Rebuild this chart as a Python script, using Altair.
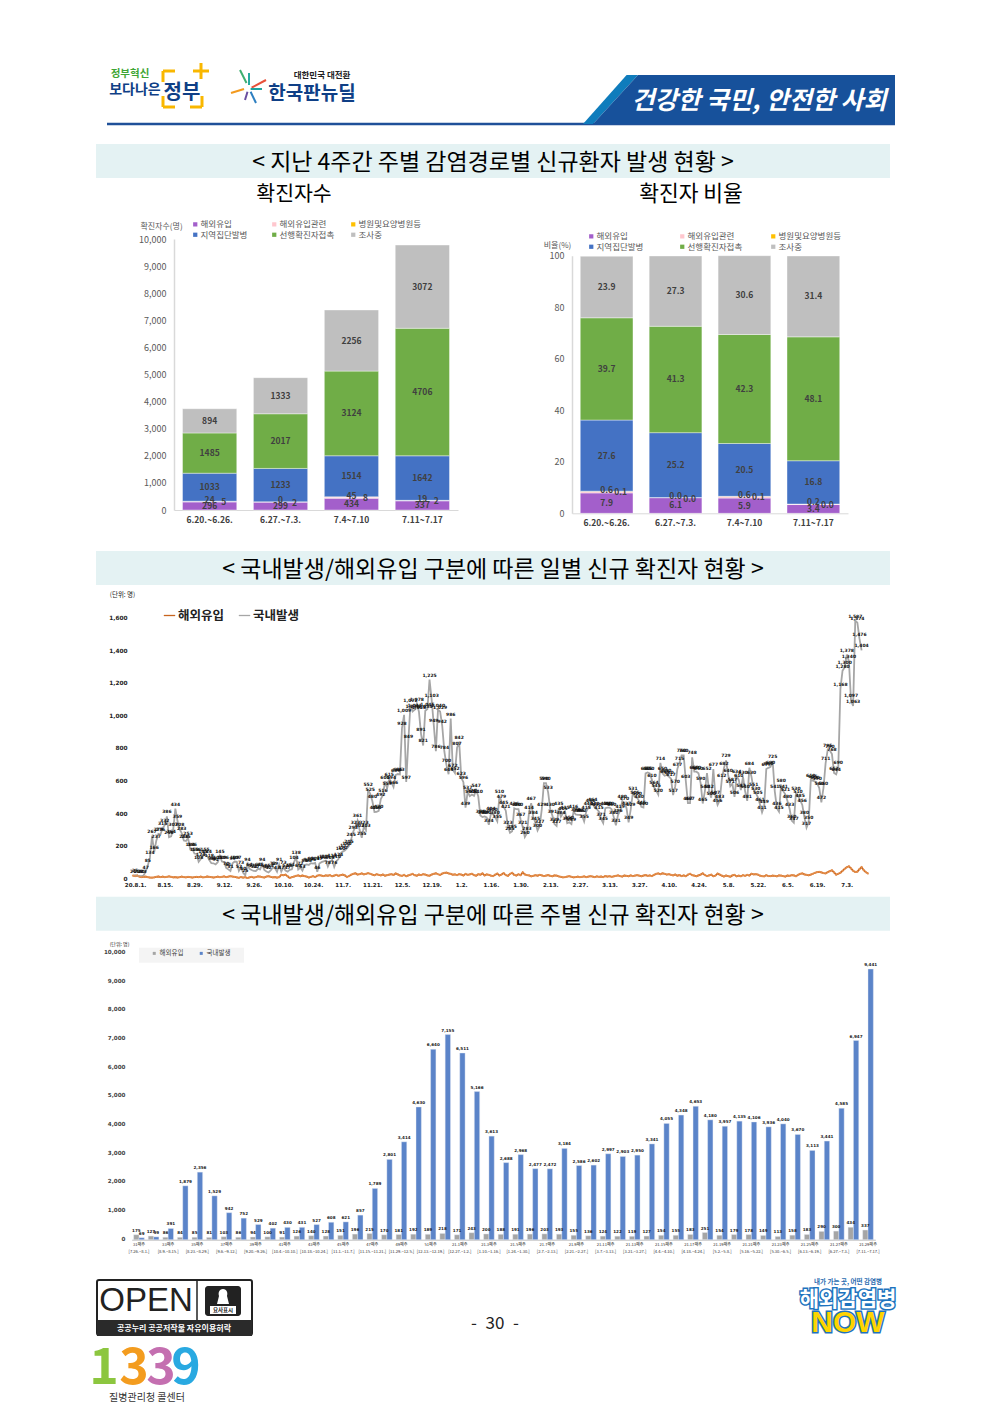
import altair as alt
import pandas as pd

KR = "Noto Sans CJK KR"
NUM = "DejaVu Sans"
COMMA = "format(datum.value,',')"

# ---- chart 1 / chart 2 : weekly infection routes
periods1 = ["6.20.~6.26.", "6.27.~7.3.", "7.4~7.10", "7.11~7.17"]
routes = ["해외유입", "해외유입관련", "병원및요양병원등", "지역집단발병", "선행확진자접촉", "조사중"]
route_colors = ["#A35FCB", "#FFC7CE", "#FFC000", "#4472C4", "#70AD47", "#BFBFBF"]
counts = {
    "해외유입": [296, 299, 434, 337],
    "해외유입관련": [24, 0, 45, 19],
    "병원및요양병원등": [5, 2, 8, 2],
    "지역집단발병": [1033, 1233, 1514, 1642],
    "선행확진자접촉": [1485, 2017, 3124, 4706],
    "조사중": [894, 1333, 2256, 3072],
}
shares = {
    "해외유입": [7.9, 6.1, 5.9, 3.4],
    "해외유입관련": [0.6, 0.0, 0.6, 0.2],
    "병원및요양병원등": [0.1, 0.0, 0.1, 0.0],
    "지역집단발병": [27.6, 25.2, 20.5, 16.8],
    "선행확진자접촉": [39.7, 41.3, 42.3, 48.1],
    "조사중": [23.9, 27.3, 30.6, 31.4],
}

# ---- chart 3 : daily series
daily_ticks = ["20.8.1.", "8.15.", "8.29.", "9.12.", "9.26.", "10.10.", "10.24.", "11.7.", "11.21.", "12.5.",
               "12.19.", "1.2.", "1.16.", "1.30.", "2.13.", "2.27.", "3.13.", "3.27.", "4.10.", "4.24.",
               "5.8.", "5.22.", "6.5.", "6.19.", "7.3."]
daily_domestic = [
    21, 25, 23, 19, 20, 23, 47, 85, 134, 267, 166, 237, 279, 276, 315, 332, 386, 258, 264, 307,
    434, 359, 308, 283, 238, 235, 253, 184, 186, 158, 156, 108, 124, 145, 155, 144, 118, 99, 98, 91,
    105, 145, 109, 106, 70, 61, 51, 99, 109, 107, 52, 73, 40, 25, 94, 64, 57, 51, 50, 64,
    61, 94, 58, 48, 42, 54, 72, 69, 47, 91, 47, 73, 54, 47, 58, 61, 104, 138, 60, 72,
    53, 88, 91, 88, 99, 96, 101, 46, 97, 105, 110, 115, 78, 108, 118, 76, 110, 124, 160, 170,
    177, 190, 205, 245, 293, 323, 361, 302, 255, 323, 303, 552, 525, 480, 413, 414, 420, 492, 516, 600,
    559, 615, 594, 566, 639, 646, 643, 928, 1009, 597, 849, 1072, 1030, 1041, 1078, 1028, 891, 821, 1034, 1045,
    1225, 1103, 949, 786, 1040, 1029, 942, 784, 700, 644, 986, 672, 652, 807, 842, 623, 596, 439, 537, 510,
    520, 512, 547, 510, 391, 382, 386, 380, 334, 404, 400, 380, 355, 510, 479, 445, 421, 323, 285, 295,
    436, 430, 430, 367, 321, 260, 283, 414, 467, 384, 345, 300, 327, 429, 590, 590, 533, 430, 391, 339,
    327, 435, 384, 405, 415, 344, 350, 339, 416, 398, 395, 395, 392, 355, 415, 440, 454, 464, 440, 430,
    415, 371, 345, 436, 440, 440, 430, 380, 331, 396, 419, 480, 470, 437, 349, 429, 531, 505, 500, 480,
    445, 440, 650, 655, 650, 610, 564, 545, 520, 714, 650, 635, 640, 630, 617, 517, 570, 677, 715, 760,
    760, 603, 467, 467, 748, 660, 660, 650, 590, 465, 540, 652, 542, 500, 677, 507, 456, 483, 612, 682,
    729, 640, 571, 587, 506, 634, 610, 547, 630, 540, 481, 684, 630, 551, 530, 505, 461, 411, 449, 677,
    684, 690, 725, 541, 436, 415, 580, 541, 521, 480, 433, 360, 347, 530, 510, 485, 456, 380, 317, 350,
    610, 605, 600, 590, 560, 472, 560, 711, 795, 790, 768, 652, 644, 690, 1168, 1280, 1300, 1378, 1340, 1097,
    1063, 1587, 1574, 1476, 1404,
]
daily_imported = [
    22, 20, 23, 17, 14, 15, 16, 13, 11, 10, 12, 15, 17, 14, 16, 13, 15, 18, 15, 12,
    14, 11, 13, 16, 14, 12, 15, 13, 11, 14, 15, 13, 16, 12, 14, 17, 15, 13, 11, 14,
    16, 13, 15, 18, 14, 16, 19, 17, 15, 12, 9, 14, 10, 13, 8, 12, 15, 11, 14, 18,
    16, 13, 11, 17, 19, 15, 12, 14, 10, 13, 27, 25, 28, 19, 8, 13, 17, 21, 24, 19,
    23, 20, 17, 11, 15, 19, 14, 22, 26, 23, 20, 24, 22, 25, 19, 23, 27, 21, 26, 29,
    24, 14, 20, 28, 33, 37, 29, 32, 36, 30, 33, 38, 34, 29, 25, 31, 27, 24, 29, 22,
    25, 28, 31, 27, 36, 30, 24, 21, 27, 19, 24, 28, 33, 25, 22, 29, 26, 31, 28, 24,
    22, 29, 33, 37, 31, 27, 35, 39, 41, 36, 33, 28, 30, 26, 32, 29, 24, 33, 27, 30,
    34, 26, 22, 31, 28, 36, 24, 30, 27, 22, 20, 28, 35, 23, 29, 38, 26, 21, 33, 40,
    27, 23, 31, 25, 42, 30, 26, 24, 18, 21, 25, 22, 27, 24, 20, 23, 26, 21, 19, 24,
    22, 18, 15, 12, 14, 17, 19, 15, 12, 14, 16, 13, 15, 18, 13, 16, 19, 17, 14, 18,
    15, 17, 14, 20, 16, 19, 15, 18, 21, 24, 20, 17, 23, 21, 19, 24, 20, 23, 26, 22,
    19, 23, 26, 21, 24, 20, 27, 33, 36, 31, 37, 34, 29, 32, 27, 24, 29, 22, 26, 20,
    24, 19, 28, 34, 25, 22, 19, 24, 29, 37, 26, 20, 24, 28, 19, 23, 35, 29, 22, 17,
    23, 20, 16, 24, 27, 18, 22, 19, 25, 21, 27, 23, 34, 30, 32, 29, 22, 19, 18, 25,
    20, 19, 23, 21, 18, 24, 22, 20, 17, 23, 21, 26, 24, 19, 27, 33, 36, 30, 27, 25,
    29, 34, 40, 44, 46, 42, 38, 36, 44, 50, 55, 42, 28, 34, 40, 52, 64, 74, 80, 67,
    52, 45, 47, 62, 75, 56, 44, 35,
]

# ---- chart 4 : weekly series
week_names = ["31째주", "32째주", "33째주", "34째주", "35째주", "36째주", "37째주", "38째주", "39째주", "40째주", "41째주",
              "42째주", "43째주", "44째주", "45째주", "46째주", "47째주", "48째주", "49째주", "50째주", "51째주", "52째주",
              "21.1째주", "21.2째주", "21.3째주", "21.4째주", "21.5째주", "21.6째주", "21.7째주", "21.8째주", "21.9째주",
              "21.10째주", "21.11째주", "21.12째주", "21.13째주", "21.14째주", "21.15째주", "21.16째주", "21.17째주",
              "21.18째주", "21.19째주", "21.20째주", "21.21째주", "21.22째주", "21.23째주", "21.24째주", "21.25째주",
              "21.26째주", "21.27째주", "21.28째주", "21.29째주"]
week_spans = ["[7.26.~8.1.]", "[8.9.~8.15.]", "[8.23.~8.29.]", "[9.6.~9.12.]", "[9.20.~9.26.]", "[10.4.~10.10.]",
              "[10.18.~10.24.]", "[11.1.~11.7.]", "[11.15.~11.21.]", "[11.29.~12.5.]", "[12.13.~12.19.]",
              "[12.27.~1.2.]", "[1.10.~1.16.]", "[1.24.~1.30.]", "[2.7.~2.13.]", "[2.21.~2.27.]", "[3.7.~3.13.]",
              "[3.21.~3.27.]", "[4.4.~4.10.]", "[4.18.~4.24.]", "[5.2.~5.8.]", "[5.16.~5.22.]", "[5.30.~6.5.]",
              "[6.13.~6.19.]", "[6.27.~7.3.]", "[7.11.~7.17.]"]
weekly_imported = [175, 127, 86, 84, 85, 81, 103, 86, 94, 100, 91, 126, 140, 128, 151, 196, 215, 170, 181, 192, 189, 218,
                   171, 243, 200, 188, 191, 196, 203, 193, 155, 136, 124, 122, 119, 127, 154, 155, 183, 251, 154, 179,
                   178, 149, 113, 158, 183, 290, 300, 434, 337]
weekly_domestic = [69, 99, 391, 1879, 2356, 1529, 942, 752, 529, 402, 430, 431, 527, 608, 621, 857, 1789, 2801, 3414,
                   4630, 6640, 7155, 6511, 5166, 3613, 2688, 2968, 2477, 2472, 3184, 2586, 2602, 2997, 2903, 2950,
                   3341, 4055, 4348, 4653, 4180, 3957, 4135, 4106, 3936, 4040, 3670, 3113, 3441, 4585, 6947, 9441]


class Deco:
    """Page furniture, placed in pixels of the page through alt.value."""

    def __init__(self, ox, oy):
        self.ox, self.oy = ox, oy
        self.one = pd.DataFrame({"t": [""]})

    def text(self, s, x, y, size, color="#000000", weight="normal", align="center", font=KR, **kw):
        shift = size * 0.09 if font == KR else 0
        return alt.Chart(self.one).mark_text(
            text=s, fontSize=size, color=color, fontWeight=weight, align=align, baseline="middle", font=font, **kw
        ).encode(x=alt.value(x - self.ox), y=alt.value(y + shift - self.oy))

    def rect(self, x1, y1, x2, y2, color, **kw):
        return alt.Chart(self.one).mark_rect(color=color, **kw).encode(
            x=alt.value(x1 - self.ox), x2=alt.value(x2 - self.ox),
            y=alt.value(y1 - self.oy), y2=alt.value(y2 - self.oy))

    def rule(self, x1, y1, x2, y2, color, width=1.0):
        return alt.Chart(self.one).mark_rule(color=color, strokeWidth=width).encode(
            x=alt.value(x1 - self.ox), x2=alt.value(x2 - self.ox),
            y=alt.value(y1 - self.oy), y2=alt.value(y2 - self.oy))

    def shape(self, path, color):
        return alt.Chart(self.one).mark_point(
            shape=path, size=4, filled=True, color=color, opacity=1, strokeWidth=0
        ).encode(x=alt.value(-self.ox), y=alt.value(-self.oy))


def empty(w, h):
    return alt.Chart(pd.DataFrame({"t": [""]})).mark_point(opacity=0, size=1).encode(
        x=alt.value(10), y=alt.value(10)).properties(width=w, height=h)


SECTION = "#E4F2F3"

# ---- row 1 : header
d = Deco(8, 8)
header_marks = [
    d.text("정부혁신", 130, 73, 10.5, "#3FA535", "bold"),
    d.text("보다나은", 135, 89, 14, "#0F3F86", "bold"),
    d.text("정부", 182, 91, 20, "#0F3F86", "bold"),
    d.rule(163, 71, 163, 82, "#F9B700", 3), d.rule(163, 71, 175, 71, "#F9B700", 3),
    d.rule(163, 96, 163, 107, "#F9B700", 3), d.rule(163, 107, 175, 107, "#F9B700", 3),
    d.rule(202, 96, 202, 107, "#F9B700", 3), d.rule(190, 107, 202, 107, "#F9B700", 3),
    d.rule(193, 71, 209, 71, "#F9B700", 3), d.rule(201, 63, 201, 79, "#F9B700", 3),
    d.rule(240, 70, 246.5, 83, "#3DAE6F", 2), d.rule(249, 73, 249, 85, "#27AAA0", 2),
    d.rule(266, 80, 251.6, 87.6, "#E8503A", 2), d.rule(262, 89, 250.6, 89, "#20A39E", 2),
    d.rule(256, 103, 250.6, 91.7, "#2D7FC1", 2), d.rule(245, 100, 247.5, 91.7, "#6A4FA0", 2),
    d.rule(231, 93, 244, 89, "#F39A1E", 2),
    d.text("대한민국 대전환", 322, 74, 8.5, "#222222", "bold"),
    d.text("한국판뉴딜", 312, 92, 19, "#0F3F86", "bold"),
    d.rule(107, 124, 895, 124, "#1F5099", 2.5),
    d.shape("M583,124 L626.6,75 L638,75 L593,124 Z", "#0F7CBC"),
    d.shape("M593,124 L638,75 L895,75 L895,124 Z", "#17519B"),
    d.text("건강한 국민, 안전한 사회", 759, 99, 25, "#FFFFFF", "bold", fontStyle="italic"),
    d.rect(96, 144, 890, 178, SECTION),
    d.text("< 지난 4주간 주별 감염경로별 신규환자 발생 현황 >", 493, 161, 23),
    d.text("확진자수", 294, 193, 20.5),
    d.text("확진자 비율", 691, 193, 21.5),
]
row1 = alt.layer(*header_marks).properties(width=564, height=231)


# ---- row 2 : stacked bars
def stacked(table, fmt, y_range, x_range, y_values, title, title_x, title_y, leg_x, leg_y, pad,
            bottom_off, left_off, width):
    rows = []
    for o, r in enumerate(routes):
        for p, v in zip(periods1, table[r]):
            rows.append({"period": p, "route": r, "value": v, "ord": o})
    df = pd.DataFrame(rows)
    base = alt.Chart(df).transform_stack(
        stack="value", groupby=["period"], sort=[alt.SortField("ord")], as_=["y0", "y1"]
    ).transform_calculate(mid="(datum.y0+datum.y1)/2")
    x = alt.X("period:N", sort=periods1, title=None,
              scale=alt.Scale(range=x_range, paddingInner=0.235, paddingOuter=0.12),
              axis=alt.Axis(labelAngle=0, labelFont=KR, labelFontSize=8.5, labelFontWeight="bold",
                            labelColor="#404040", ticks=False, domainColor="#D9D9D9", offset=bottom_off,
                            labelPadding=5))
    yscale = alt.Scale(domain=[y_values[0], y_values[-1]], range=y_range, nice=False)
    yaxis = alt.Axis(values=y_values, labelExpr=COMMA, labelOverlap=False, grid=False, ticks=False,
                     domainColor="#D9D9D9", domainWidth=1.5, labelFont=KR, labelFontSize=9,
                     labelColor="#595959", labelPadding=8, offset=left_off, titleAngle=0, titleFont=KR,
                     titleFontSize=8, titleFontWeight="normal", titleColor="#595959", titleX=title_x,
                     titleY=title_y, titleAlign="center")
    bars = base.mark_bar(stroke="white", strokeWidth=0.4).encode(
        x=x,
        y=alt.Y("y0:Q", scale=yscale, title=title, axis=yaxis),
        y2="y1:Q",
        color=alt.Color("route:N", sort=routes, scale=alt.Scale(domain=routes, range=route_colors),
                        legend=alt.Legend(orient="none", legendX=leg_x, legendY=leg_y, columns=3, title=None,
                                          direction="horizontal", symbolType="square", symbolSize=18, labelFont=KR,
                                          labelFontSize=8.5, labelColor="#595959", columnPadding=pad, rowPadding=1.5,
                                          gridAlign="all", symbolStrokeWidth=0, labelOffset=1)),
    )
    txt = dict(font=KR, fontSize=8.5, fontWeight="bold", color="#404040")
    enc = dict(x=x, y=alt.Y("mid:Q", scale=yscale, title=title, axis=yaxis),
               text=alt.Text("value:Q", format=fmt))
    main = base.transform_filter(alt.datum.ord != 1).transform_filter(alt.datum.ord != 2).mark_text(**txt).encode(**enc)
    pink = base.transform_filter(alt.datum.ord == 1).mark_text(dy=-2, **txt).encode(**enc)
    yellow = base.transform_filter(alt.datum.ord == 2).mark_text(dx=14, dy=1, **txt).encode(**enc)
    return alt.layer(bars, main, pink, yellow).properties(width=width, height=275)


left = stacked(counts, "d", [271, 0], [166, 450], list(range(0, 10001, 1000)), "확진자수(명)", -13, -9,
               183, -19, 6, -4, -166, 564)
right = stacked(shares, ".1f", [274.3, 16.7], [0, 276], [0, 20, 40, 60, 80, 100], "비율(%)", -15, 10,
                15, -7, 18, -0.7, 0, 276)

# ---- row 3 : daily line
d = Deco(8, 514)
daily_df = pd.concat([
    pd.DataFrame({"day": range(len(daily_imported)), "v": daily_imported, "series": "해외유입"}),
    pd.DataFrame({"day": range(len(daily_domestic)), "v": daily_domestic, "series": "국내발생"}),
])
tick_days = [1 + 14 * i for i in range(len(daily_ticks))]
tick_expr = "[" + ",".join("'%s'" % t for t in daily_ticks) + "][(datum.value-1)/14]"
daily_x = alt.X("day:Q", title=None, scale=alt.Scale(domain=[0, 344], range=[125, 853.6], nice=False, zero=False),
                axis=alt.Axis(values=tick_days, labelExpr=tick_expr, grid=False, ticks=False, domain=False,
                              labelFont=NUM, labelFontSize=5.5, labelFontWeight="bold", labelColor="#222222",
                              labelPadding=3, labelOverlap=False, labelFlush=False, labelBound=False))
daily_y = alt.Y("v:Q", title="(단위: 명)",
                scale=alt.Scale(domain=[0, 1600], range=[365.3, 104.5], nice=False),
                axis=alt.Axis(values=list(range(0, 1601, 200)), labelExpr=COMMA, labelOverlap=False, grid=False,
                              ticks=False, domain=False, labelFont=NUM, labelFontSize=5.8, labelFontWeight="bold",
                              labelColor="#222222", labelPadding=0, labelOffset=-1, offset=-119, titleAngle=0,
                              titleFont=KR, titleFontSize=6.5, titleColor="#222222", titleFontWeight="normal",
                              titleX=-5, titleY=83, titleAlign="center"))
daily_line = alt.Chart(daily_df).mark_line(interpolate="linear").encode(
    x=daily_x, y=daily_y,
    strokeWidth=alt.value(1.8),
    detail="series:N",
    color=alt.Color("series:N", sort=["해외유입", "국내발생"],
                    scale=alt.Scale(domain=["해외유입", "국내발생"], range=["#C8641E", "#A6A6A6"]),
                    legend=alt.Legend(orient="none", legendX=155, legendY=95, columns=2, title=None,
                                      direction="horizontal", symbolType="stroke", symbolSize=130,
                                      symbolStrokeWidth=1.3, labelFont=KR, labelFontSize=12.5, labelFontWeight="bold",
                                      labelColor="#222222", columnPadding=11, labelOffset=2)),
)
daily_dots = alt.Chart(daily_df).transform_filter(alt.datum.series == "해외유입").mark_point(
    filled=True, size=5, color="#E8924F", opacity=0.9).encode(x=daily_x, y=daily_y)
daily_text = alt.Chart(daily_df).transform_filter(alt.datum.series == "국내발생").mark_text(
    font=NUM, fontSize=4.5, fontWeight="bold", color="#111111", dy=-4).encode(
    x=daily_x, y=daily_y, text=alt.Text("v:Q", format=","))
row3 = alt.layer(
    d.rect(96, 551, 890, 585, SECTION),
    d.text("< 국내발생/해외유입 구분에 따른 일별 신규 확진자 현황 >", 493, 568, 23),
    daily_line, daily_dots, daily_text,
).properties(width=564, height=365.3)

# ---- row 4 : weekly bars
d = Deco(8, 879.3)
odd = iter(week_spans)
week_keys = [n + "|" + next(odd) if i % 2 == 0 else n for i, n in enumerate(week_names)]
weekly_df = pd.concat([
    pd.DataFrame({"week": week_keys, "v": weekly_imported, "series": "해외유입", "s": 0}),
    pd.DataFrame({"week": week_keys, "v": weekly_domestic, "series": "국내발생", "s": 1}),
])
week_x = alt.X("week:N", sort=week_keys, title=None,
               scale=alt.Scale(range=[123.7, 867.3], paddingInner=0.27, paddingOuter=0.135),
               axis=alt.Axis(values=week_keys[::2], labelExpr="split(datum.label,'|')", labelAngle=0, ticks=False,
                             domainColor="#BFBFBF", labelFont=KR, labelFontSize=4.1, labelFontWeight="normal",
                             labelColor="#333333", labelPadding=3, labelOverlap=False, labelLineHeight=7,
                             labelBound=False, labelFlush=False, labelLimit=60))
week_off = alt.XOffset("series:N", sort=["해외유입", "국내발생"], scale=alt.Scale(paddingInner=0, paddingOuter=0))
week_y = alt.Y("v:Q", title="(단위: 명)",
               scale=alt.Scale(domain=[0, 10000], range=[359.7, 73], nice=False),
               axis=alt.Axis(values=list(range(0, 10001, 1000)), labelExpr=COMMA, labelOverlap=False, grid=False,
                             ticks=False, domain=False, labelFont=NUM, labelFontSize=5.6, labelFontWeight="bold",
                             labelColor="#444444", labelPadding=0, labelOffset=-1.5, offset=-117, titleAngle=0,
                             titleFont=KR, titleFontSize=5, titleColor="#222222", titleFontWeight="normal",
                             titleX=-6, titleY=66.5, titleAlign="center"))
week_bars = alt.Chart(weekly_df).mark_bar(stroke="#E6ECF6", strokeWidth=0.4).encode(
    x=week_x, xOffset=week_off, y=week_y,
    color=alt.Color("series:N", sort=["해외유입", "국내발생"],
                    scale=alt.Scale(domain=["해외유입", "국내발생"], range=["#A5A5A5", "#5B84C9"]),
                    legend=alt.Legend(orient="none", legendX=143, legendY=70, columns=2, title=None,
                                      direction="horizontal", symbolType="square", symbolSize=9, symbolStrokeWidth=0,
                                      labelFont=KR, labelFontSize=6.5, labelColor="#404040", columnPadding=14,
                                      labelOffset=2)),
)
week_text = alt.Chart(weekly_df).mark_text(
    font=NUM, fontSize=4.1, fontWeight="bold", color="#222222", baseline="bottom", dy=-2).encode(
    x=week_x, xOffset=week_off, y=week_y, text=alt.Text("v:Q", format=","))
row4 = alt.layer(
    d.rect(96, 896, 890, 930, SECTION),
    d.text("< 국내발생/해외유입 구분에 따른 주별 신규 확진자 현황 >", 493, 913, 23),
    d.rect(139, 947, 244, 962, "#F4F4F4"),
    week_bars, week_text,
).properties(width=564, height=359.7)

# ---- row 5 : footer
d = Deco(8, 1239)
footer_marks = [
    d.rect(97, 1279, 252, 1334, "#FFFFFF", stroke="#222222", strokeWidth=2, cornerRadius=2),
    d.rect(97, 1319, 252, 1335, "#2A2A2A"),
    d.rule(197, 1279, 197, 1319, "#222222", 1.5),
    d.text("OPEN", 146, 1300, 33, "#222222", "normal", font="Liberation Sans"),
    d.rect(205, 1285, 241, 1315, "#222222", cornerRadius=3),
    d.shape("M223,1288 C227,1288 228,1292 227,1295 L229,1303 L217,1303 L219,1295 C218,1292 219,1288 223,1288 Z", "#FFFFFF"),
    d.rect(210, 1305, 236, 1313, "#FFFFFF"),
    d.text("요사표시", 223, 1309, 5.5, "#222222", "bold"),
    d.text("공공누리  공공저작물 자유이용허락", 174, 1327, 8, "#FFFFFF", "bold"),
    d.text("-", 474, 1321, 17, "#222222"),
    d.text("30", 495, 1321, 17, "#222222"),
    d.text("-", 516, 1321, 17, "#222222"),
    d.text("1", 104, 1363, 50, "#8CC63F", "bold"),
    d.text("3", 134, 1363, 50, "#F39C1F", "bold"),
    d.text("3", 161, 1363, 50, "#C46FB0", "bold"),
    d.text("9", 186, 1363, 50, "#29A9E1", "bold"),
    d.text("질병관리청 콜센터", 147, 1396, 10, "#333333"),
    d.text("내가 가는 곳, 어떤 감염병", 848, 1280, 6.5, "#2B6CB0", "bold"),
    d.text("해외감염병", 848, 1297, 21, "#1E73BE", "bold", stroke="#1E73BE", strokeWidth=3),
    d.text("해외감염병", 848, 1297, 21, "#FFFFFF", "bold"),
    d.text("NOW", 848, 1322, 30, "#1E73BE", "bold", font="Liberation Sans", stroke="#1E73BE", strokeWidth=3),
    d.text("NOW", 848, 1322, 30, "#FFD400", "bold", font="Liberation Sans"),
]
row5 = alt.layer(*footer_marks).properties(width=564, height=156)

chart = alt.concat(
    row1, empty(276, 231),
    left, right,
    row3, empty(276, 365.3),
    row4, empty(276, 359.7),
    row5, empty(276, 156),
    columns=2, spacing=0, bounds="flush", align="each",
).resolve_scale(color="independent").properties(padding=0).configure_view(stroke=None)

chart.save("out.html", embed_options={"renderer": "svg", "actions": False})
